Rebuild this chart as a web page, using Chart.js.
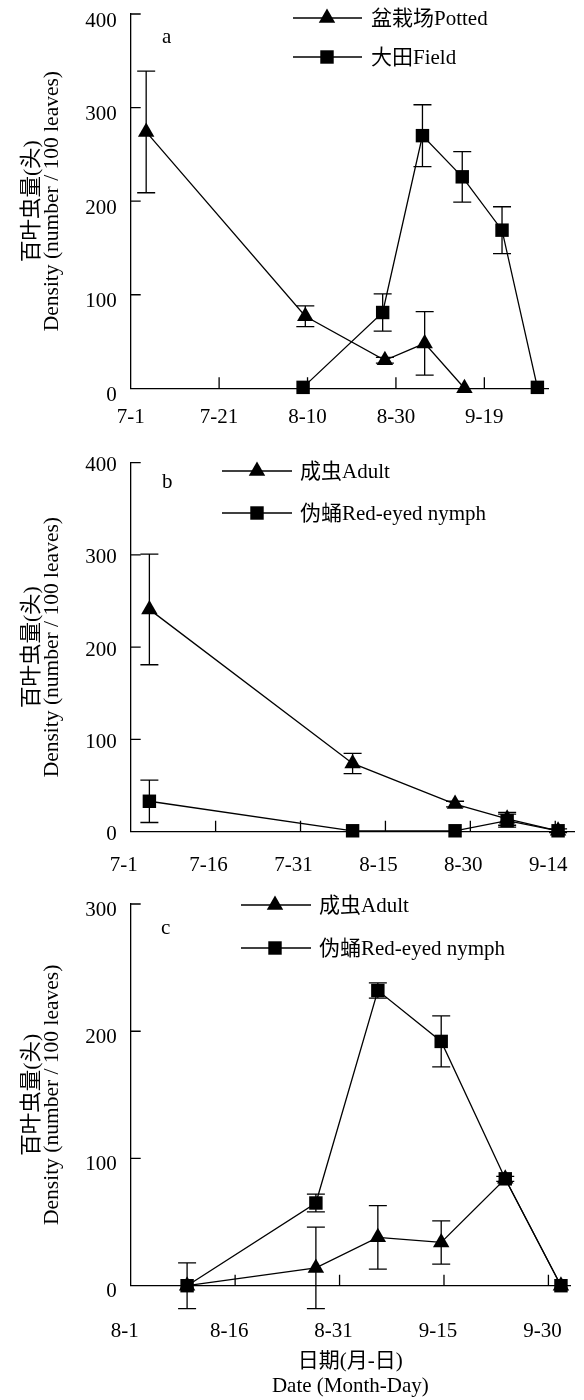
<!DOCTYPE html>
<html><head><meta charset="utf-8">
<script src="https://cdn.jsdelivr.net/npm/chart.js@4.4.0/dist/chart.umd.min.js"></script>
<style>
html,body{margin:0;padding:0;background:#fff;}
body{width:584px;height:1400px;position:relative;overflow:hidden;}
canvas{position:absolute;left:0;}
</style></head><body>
<canvas id="ca" width="584" height="445" style="top:0px"></canvas>
<canvas id="cb" width="584" height="435" style="top:445px"></canvas>
<canvas id="cc" width="584" height="520" style="top:880px"></canvas>
<script>
// ---------- DATA ----------
// Panel a (days counted from 7-1)
const aTickDays = [0, 20, 40, 60, 80];
const aTickLabels = ['7-1', '7-21', '8-10', '8-30', '9-19'];
const aYTicks = [0, 100, 200, 300, 400];
const pottedDays = [3.5, 39.5, 57.5, 66.5, 75.5];
const pottedValues = [274, 77, 30, 48, 0];
const pottedErr = [65, 11, 3, 34, 0];
const fieldDays = [39, 57, 66, 75, 84, 92];
const fieldValues = [1, 81, 270, 226, 169, 1];
const fieldErr = [0, 20, 33, 27, 25, 0];

// Panel b (days counted from 7-1)
const bTickDays = [0, 15, 30, 45, 60, 75];
const bTickLabels = ['7-1', '7-16', '7-31', '8-15', '8-30', '9-14'];
const bYTicks = [0, 100, 200, 300, 400];
const bDays = [3.3, 39.2, 57.3, 66.5, 75.5];
const bAdultValues = [241, 74, 30, 14, 1];
const bAdultErr = [60, 11, 3, 7, 2];
const bNymphValues = [33, 1, 1, 12, 1];
const bNymphErr = [23, 0, 0, 7, 0];

// Panel c (days counted from 8-1)
const cTickDays = [0, 15, 30, 45, 60];
const cTickLabels = ['8-1', '8-16', '8-31', '9-15', '9-30'];
const cYTicks = [0, 100, 200, 300];
const cDays = [8.1, 26.6, 35.5, 44.6, 53.8, 61.8];
const cAdultValues = [0, 14, 38, 34, 84, 0];
const cAdultErr = [18, 32, 25, 17, 0, 0];
const cNymphValues = [0, 65, 232, 192, 84, 0];
const cNymphErr = [0, 7, 6, 20, 2, 0];

const yTitle = ['百叶虫量(头)', 'Density (number / 100 leaves)'];
const xTitle = ['日期(月-日)', 'Date (Month-Day)'];

// ---------- RENDERING ----------
const FONT = '"Liberation Serif", "Noto Sans CJK SC", serif';
const LW = 1.3;
const TICK_SIZE = 21;

function pts(xs, ys) { return xs.map((x, i) => ({x: x, y: ys[i]})); }

function marker(ctx, style, x, y, r) {
  ctx.beginPath();
  if (style === 'triangle') {
    ctx.moveTo(x, y - r);
    ctx.lineTo(x + Math.sin(2 * Math.PI / 3) * r, y + r / 2);
    ctx.lineTo(x - Math.sin(2 * Math.PI / 3) * r, y + r / 2);
    ctx.closePath();
  } else {
    const s = r * Math.SQRT1_2;
    ctx.rect(x - s, y - s, 2 * s, 2 * s);
  }
  ctx.fill();
}

const decor = {
  id: 'decor',
  afterDatasetsDraw(chart, args, o) {
    const ctx = chart.ctx, xs = chart.scales.x, ys = chart.scales.y;
    const area = chart.chartArea;
    ctx.save();
    ctx.strokeStyle = '#000'; ctx.fillStyle = '#000'; ctx.lineWidth = LW;
    // error bars
    chart.data.datasets.forEach(ds => {
      ds.data.forEach((p, i) => {
        const e = ds.err[i]; if (!e) return;
        const px = xs.getPixelForValue(p.x);
        const yt = ys.getPixelForValue(p.y + e), yb = ys.getPixelForValue(p.y - e);
        ctx.beginPath();
        ctx.moveTo(px, yt); ctx.lineTo(px, yb);
        ctx.moveTo(px - 9, yt); ctx.lineTo(px + 9, yt);
        ctx.moveTo(px - 9, yb); ctx.lineTo(px + 9, yb);
        ctx.stroke();
      });
    });
    // inner tick marks
    ctx.beginPath();
    xs.ticks.forEach(t => {
      if (t.value === xs.min) return;
      const px = xs.getPixelForValue(t.value);
      ctx.moveTo(px, area.bottom); ctx.lineTo(px, area.bottom - 11);
    });
    ys.ticks.forEach(t => {
      if (t.value === ys.min) return;
      const py = ys.getPixelForValue(t.value);
      ctx.moveTo(area.left, py); ctx.lineTo(area.left + 10, py);
    });
    ctx.stroke();
    // legend
    ctx.font = '21px ' + FONT;
    ctx.textAlign = 'left'; ctx.textBaseline = 'middle';
    o.legend.forEach(item => {
      ctx.beginPath();
      ctx.moveTo(o.lineX0, item.y); ctx.lineTo(o.lineX1, item.y); ctx.stroke();
      marker(ctx, item.style, o.markX, item.y, 9.5);
      ctx.fillText(item.label, o.textX, item.y + 1);
    });
    // panel letter
    ctx.fillText(o.letter, o.letterX, o.letterY);
    ctx.restore();
  }
};

function makeChart(id, cfg) {
  const datasets = cfg.series.map(s => ({
    label: s.label,
    data: s.data,
    err: s.err,
    borderColor: '#000',
    backgroundColor: '#000',
    borderWidth: LW,
    pointStyle: s.style,
    pointRadius: 9.5,
    pointHoverRadius: 9.5,
    pointBackgroundColor: '#000',
    pointBorderColor: '#000',
    pointBorderWidth: 0,
    tension: 0,
    clip: false,
    fill: false
  }));
  const fixPad = s => { s.paddingLeft = 0; s.paddingRight = 0; s.paddingTop = 0; s.paddingBottom = 0; };
  return new Chart(document.getElementById(id), {
    type: 'line',
    data: { datasets },
    plugins: [decor],
    options: {
      responsive: false,
      devicePixelRatio: 1,
      animation: false,
      events: [],
      layout: { padding: { top: cfg.padTop, right: cfg.padRight, left: 0, bottom: 0 } },
      plugins: {
        legend: { display: false },
        tooltip: { enabled: false },
        decor: cfg.decor
      },
      scales: {
        x: {
          type: 'linear',
          min: cfg.xMin, max: cfg.xMax,
          grid: { display: false, drawTicks: false },
          border: { display: true, color: '#000', width: LW },
          afterBuildTicks: s => { s.ticks = cfg.tickDays.map(v => ({ value: v })); },
          afterFit: s => { s.height = cfg.xHeight; fixPad(s); },
          ticks: {
            color: '#000',
            font: { family: FONT, size: TICK_SIZE },
            padding: cfg.xLabelPad,
            labelOffset: cfg.xLabelOffset,
            maxRotation: 0,
            autoSkip: false,
            callback: v => cfg.tickLabels[cfg.tickDays.indexOf(v)]
          },
          title: cfg.xTitle ? {
            display: true, text: cfg.xTitle, color: '#000',
            font: { family: FONT, size: 21, lineHeight: 1.2 },
            padding: { top: 0, bottom: 0.5 }
          } : { display: false }
        },
        y: {
          type: 'linear',
          min: cfg.yTicks[0], max: cfg.yTicks[cfg.yTicks.length - 1],
          grid: { display: false, drawTicks: false },
          border: { display: true, color: '#000', width: LW },
          afterBuildTicks: s => { s.ticks = cfg.yTicks.map(v => ({ value: v })); },
          afterFit: s => { s.width = 130.7; fixPad(s); },
          ticks: {
            color: '#000',
            font: { family: FONT, size: TICK_SIZE },
            padding: 14,
            labelOffset: cfg.yLabelOffset
          },
          title: {
            display: true, text: yTitle, color: '#000',
            font: { family: FONT, size: 21.5, lineHeight: 0.93 },
            padding: { top: 22, bottom: 0 }
          }
        }
      }
    }
  });
}

makeChart('ca', {
  series: [
    { label: '盆栽场Potted', data: pts(pottedDays, pottedValues), err: pottedErr, style: 'triangle' },
    { label: '大田Field', data: pts(fieldDays, fieldValues), err: fieldErr, style: 'rect' }
  ],
  tickDays: aTickDays, tickLabels: aTickLabels, yTicks: aYTicks,
  xMin: 0, xMax: 94.4,
  padTop: 14, padRight: 36, xHeight: 56.7,
  xLabelPad: 17, xLabelOffset: 0, yLabelOffset: 7,
  decor: {
    legend: [
      { label: '盆栽场Potted', style: 'triangle', y: 18 },
      { label: '大田Field', style: 'rect', y: 57 }
    ],
    lineX0: 293, lineX1: 362, markX: 327, textX: 371,
    letter: 'a', letterX: 162, letterY: 37
  }
});

makeChart('cb', {
  series: [
    { label: '成虫Adult', data: pts(bDays, bAdultValues), err: bAdultErr, style: 'triangle' },
    { label: '伪蛹Red-eyed nymph', data: pts(bDays, bNymphValues), err: bNymphErr, style: 'rect' }
  ],
  tickDays: bTickDays, tickLabels: bTickLabels, yTicks: bYTicks,
  xMin: 0, xMax: 78.4,
  padTop: 17.7, padRight: 0, xHeight: 435 - 386.7,
  xLabelPad: 21, xLabelOffset: -7, yLabelOffset: 3,
  decor: {
    legend: [
      { label: '成虫Adult', style: 'triangle', y: 26 },
      { label: '伪蛹Red-eyed nymph', style: 'rect', y: 68 }
    ],
    lineX0: 222, lineX1: 292, markX: 257, textX: 300,
    letter: 'b', letterX: 162, letterY: 37
  }
});

makeChart('cc', {
  series: [
    { label: '成虫Adult', data: pts(cDays, cAdultValues), err: cAdultErr, style: 'triangle' },
    { label: '伪蛹Red-eyed nymph', data: pts(cDays, cNymphValues), err: cNymphErr, style: 'rect' }
  ],
  tickDays: cTickDays, tickLabels: cTickLabels, yTicks: cYTicks,
  xMin: 0, xMax: 63.1,
  padTop: 24, padRight: 14, xHeight: 520 - 405.7,
  xLabelPad: 33, xLabelOffset: -6, yLabelOffset: 6,
  xTitle: xTitle,
  decor: {
    legend: [
      { label: '成虫Adult', style: 'triangle', y: 25 },
      { label: '伪蛹Red-eyed nymph', style: 'rect', y: 68 }
    ],
    lineX0: 241, lineX1: 311, markX: 275, textX: 319,
    letter: 'c', letterX: 161, letterY: 48
  }
});
</script>
</body></html>
